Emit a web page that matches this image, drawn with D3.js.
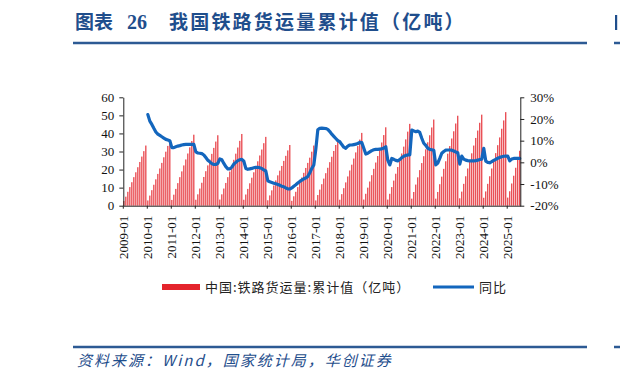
<!DOCTYPE html>
<html>
<head>
<meta charset="utf-8">
<title>我国铁路货运量累计值</title>
<script src="https://cdn.jsdelivr.net/npm/d3@7/dist/d3.min.js"></script>
<style>
  body { margin: 0; background: #fff; }
  svg { display: block; }
</style>
</head>
<body>
<svg width="620" height="383"></svg>
<script>
// years shown on the x axis, data runs 2009-01 .. 2025-07
const years = d3.range(2009, 2026);

// 中国:铁路货运量:累计值 (亿吨), one row per year
const cumulative = [
  2.6, 5.0, 7.7, 10.3, 13.0, 15.8, 18.5, 21.3, 24.2, 27.2, 30.2, 33.3,
  2.9, 5.6, 8.6, 11.6, 14.6, 17.6, 20.6, 23.7, 26.8, 29.9, 33.1, 36.4,
  3.2, 6.1, 9.3, 12.5, 15.8, 19.0, 22.3, 25.6, 28.9, 32.3, 35.8, 39.3,
  3.3, 6.3, 9.5, 12.7, 15.9, 19.1, 22.3, 25.5, 28.7, 32.0, 35.5, 39.0,
  3.4, 6.3, 9.5, 12.6, 15.8, 18.9, 22.1, 25.4, 28.8, 32.2, 35.9, 39.7,
  3.3, 6.2, 9.3, 12.4, 15.5, 18.5, 21.6, 24.6, 27.8, 31.1, 34.6, 38.1,
  3.0, 5.7, 8.5, 11.2, 14.0, 16.8, 19.4, 22.0, 24.8, 27.6, 30.6, 33.6,
  2.7, 5.2, 7.7, 10.3, 13.0, 15.6, 18.2, 20.9, 23.7, 26.6, 29.9, 33.3,
  2.9, 5.9, 8.9, 11.9, 15.0, 18.0, 21.0, 24.1, 27.1, 30.3, 33.6, 36.9,
  3.3, 6.4, 9.7, 12.9, 16.2, 19.5, 22.7, 26.1, 29.5, 33.0, 36.6, 40.3,
  3.4, 6.6, 10.0, 13.4, 16.9, 20.4, 23.9, 27.5, 31.1, 35.0, 39.1, 43.4,
  3.4, 6.6, 10.3, 13.9, 17.7, 21.4, 25.1, 28.9, 32.7, 36.7, 41.0, 45.3,
  3.9, 7.6, 11.7, 15.7, 19.7, 23.6, 27.4, 31.2, 35.1, 39.0, 43.3, 47.7,
  3.9, 7.6, 11.9, 16.1, 20.4, 24.6, 28.8, 33.0, 37.2, 41.2, 45.5, 49.8,
  4.1, 7.8, 12.1, 16.3, 20.6, 24.8, 29.0, 33.3, 37.5, 41.6, 45.9, 50.4,
  4.4, 7.9, 12.1, 16.3, 20.6, 24.9, 29.1, 33.5, 37.8, 42.6, 47.2, 51.8,
  4.5, 8.0, 12.3, 16.6, 21.0, 25.4, 30.4
];

// 同比 (%), 2009 has no value
const yoy = [
  null, null, null, null, null, null, null, null, null, null, null, null,
  22, 19, 17.5, 15.7, 14, 13, 12.4, 11.8, 11.2, 10.6, 10.3, 10,
  6.8, 6.8, 7.2, 7.5, 7.7, 8, 8.2, 8.3, 8.3, 8.3, 8.3, 8.3,
  4.8, 4.3, 4.2, 4.0, 3.4, 2.2, 1, 0.2, -0.6, -1, -1, -0.5,
  1.6, 1.2, -0.5, -2, -3, -3, -2.2, -0.8, 0, 0.8, 1.2, 1.4,
  0.5, -2.8, -3.2, -3, -2.8, -2.5, -2.3, -2.3, -2.5, -2.8, -3.5, -4,
  -8.5, -9, -9.3, -9.6, -9.9, -10.2, -10.6, -11, -11.3, -11.8, -12.2, -12.3,
  -11.8, -11, -10.3, -9.5, -8.8, -8.2, -7.6, -7.2, -6.5, -4.8, -2.8, -1.2,
  6, 15, 15.7, 15.8, 15.7, 15.6, 15.2, 14.2, 13, 12, 11, 10,
  9.5, 8.2, 7, 6.5, 7.5, 8, 8, 8.2, 8.4, 8.7, 9.2, 9.1,
  6.5, 3.8, 4.2, 4.8, 5.4, 5.8, 6, 6, 6.1, 6.2, 6.6, 7.2,
  1, -1.2, 1.8, 1.4, 0.9, 0.7, 1.3, 2.2, 2.8, 3.2, 3.4, 3.4,
  14.9, 14.5, 14.1, 14.4, 13.8, 11.1, 8.8, 7.8, 6.5, 6, 5.8, 5.6,
  -1.2, -0.3, 1.8, 4.2, 5, 5.6, 5.7, 5.7, 5.6, 5.2, 4.8, 4.4,
  -0.8, 2.9, 1.5, 1, 0.8, 0.7, 0.7, 0.7, 0.8, 1, 1.3, 1.5,
  6.5, 0.6, 0, -0.2, 0.3, 0.9, 1.4, 1.9, 2.3, 2.6, 2.8, 2.9,
  2.9, 0.7, 1.5, 1.8, 1.8, 1.8, 1.8
];

const leftTicks = [0, 10, 20, 30, 40, 50, 60];
const rightTicks = [-20, -10, 0, 10, 20, 30];

// month labels "YYYY-MM"
const months = cumulative.map((v, i) =>
  (2009 + Math.floor(i / 12)) + "-" + String(i % 12 + 1).padStart(2, "0"));
const data = months.map((m, i) => ({ month: m, total: cumulative[i], yoy: yoy[i] }));

const svg = d3.select("svg");
const blue = "#1f4e8c";
const serif = "'Liberation Serif', 'Times New Roman', serif";
const cjk = "'Noto Sans CJK SC', sans-serif";

// header
svg.append("text")
  .attr("x", 75).attr("y", 29)
  .attr("fill", blue)
  .attr("font-family", cjk)
  .attr("font-weight", "bold")
  .attr("font-size", 19)
  .text("图表");
svg.append("text")
  .attr("x", 127).attr("y", 29)
  .attr("fill", blue)
  .attr("font-family", serif)
  .attr("font-weight", "bold")
  .attr("font-size", 20)
  .text("26");
svg.append("text")
  .attr("x", 169).attr("y", 29)
  .attr("fill", blue)
  .attr("font-family", cjk)
  .attr("font-weight", "bold")
  .attr("font-size", 19)
  .attr("letter-spacing", 2.2)
  .text("我国铁路货运量累计值（亿吨）");
svg.append("line")
  .attr("x1", 73).attr("x2", 587).attr("y1", 43).attr("y2", 43)
  .attr("stroke", "#2c5a94").attr("stroke-width", 2.5);
// the next panel peeks in at the right edge
svg.append("line")
  .attr("x1", 614).attr("x2", 620).attr("y1", 43).attr("y2", 43)
  .attr("stroke", "#2c5a94").attr("stroke-width", 2.5);
svg.append("rect")
  .attr("x", 615).attr("y", 15).attr("width", 2.2).attr("height", 15)
  .attr("fill", blue);

// scales
const x = d3.scaleBand()
  .domain(months)
  .range([123.3, 520.3])
  .paddingInner(0.45);
const yL = d3.scaleLinear().domain([0, 60]).range([205.7, 97.3]);
const yR = d3.scaleLinear().domain([-20, 30]).range([205.7, 97.3]);

// bars
svg.append("g")
  .selectAll("rect")
  .data(data)
  .enter().append("rect")
    .attr("x", d => x(d.month))
    .attr("y", d => yL(d.total))
    .attr("width", x.bandwidth())
    .attr("height", d => yL(0) - yL(d.total))
    .attr("fill", "#e4242c");

// yoy line
const line = d3.line()
  .defined(d => d.yoy !== null)
  .x(d => x(d.month) + x.bandwidth() / 2)
  .y(d => yR(d.yoy));
svg.append("path")
  .datum(data)
  .attr("d", line)
  .attr("fill", "none")
  .attr("stroke", "#1366bd")
  .attr("stroke-width", 3.2)
  .attr("stroke-linejoin", "round")
  .attr("stroke-linecap", "round");

// axes
const styleAxis = g => {
  g.selectAll("path, line").attr("stroke", "#222");
  g.selectAll("text")
    .attr("fill", "#111")
    .attr("font-family", serif)
    .attr("font-size", 13);
};

svg.append("g")
  .attr("transform", "translate(123.3,0)")
  .call(d3.axisLeft(yL).tickValues(leftTicks).tickSize(4).tickSizeOuter(0).tickPadding(5))
  .call(styleAxis);

svg.append("g")
  .attr("transform", "translate(520.3,0)")
  .call(d3.axisRight(yR).tickValues(rightTicks).tickSize(4).tickSizeOuter(0).tickPadding(6)
    .tickFormat(d => d + "%"))
  .call(styleAxis);

const xAxis = svg.append("g")
  .attr("transform", "translate(0,205.7)")
  .call(d3.axisBottom(x).tickValues(years.map(y => y + "-01")).tickSize(3).tickSizeOuter(0))
  .call(styleAxis);
xAxis.selectAll(".tick").attr("transform", d => "translate(" + x(d) + ",0)");
xAxis.selectAll("text")
  .attr("transform", "rotate(-90)")
  .attr("text-anchor", "end")
  .attr("x", -10)
  .attr("y", 0)
  .attr("dy", "0.35em");

// legend
svg.append("rect")
  .attr("x", 162).attr("y", 284).attr("width", 38).attr("height", 6)
  .attr("fill", "#e4242c");
svg.append("text")
  .attr("x", 205).attr("y", 291.5)
  .attr("font-family", cjk).attr("font-size", 13).attr("fill", "#222")
  .attr("letter-spacing", 1)
  .text("中国:铁路货运量:累计值（亿吨）");
svg.append("line")
  .attr("x1", 433).attr("x2", 474).attr("y1", 287).attr("y2", 287)
  .attr("stroke", "#1366bd").attr("stroke-width", 3);
svg.append("text")
  .attr("x", 479).attr("y", 291.5)
  .attr("font-family", cjk).attr("font-size", 13).attr("fill", "#222")
  .attr("letter-spacing", 1)
  .text("同比");

// footer
svg.append("line")
  .attr("x1", 73).attr("x2", 587).attr("y1", 347).attr("y2", 347)
  .attr("stroke", "#2c5a94").attr("stroke-width", 2.5);
svg.append("line")
  .attr("x1", 614).attr("x2", 620).attr("y1", 347).attr("y2", 347)
  .attr("stroke", "#2c5a94").attr("stroke-width", 2.5);
svg.append("text")
  .attr("x", 77).attr("y", 366)
  .attr("fill", blue)
  .attr("font-family", cjk)
  .attr("font-style", "italic")
  .attr("font-size", 15)
  .attr("letter-spacing", 2)
  .text("资料来源：Wind，国家统计局，华创证券");
</script>
</body>
</html>
